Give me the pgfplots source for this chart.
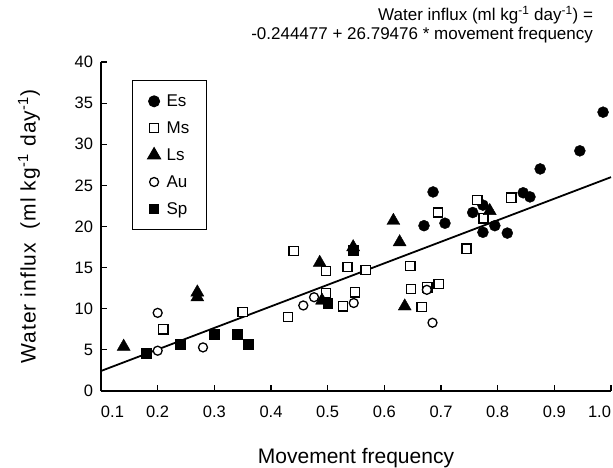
\documentclass[border=0pt]{standalone}
\usepackage{pgfplots}
\pgfplotsset{compat=1.18}
\usepackage{fontspec}
\setmainfont{Liberation Sans}

\pgfplotstableread{
x y
0.670 20.1
0.686 24.2
0.707 20.4
0.756 21.7
0.774 22.6
0.774 19.3
0.795 20.1
0.817 19.2
0.845 24.1
0.857 23.6
0.875 27.0
0.945 29.2
0.986 33.9
}\Es
\pgfplotstableread{
x y
0.210 7.5
0.350 9.6
0.430 9.0
0.440 17.0
0.497 14.6
0.497 11.9
0.527 10.3
0.535 15.1
0.548 12.0
0.567 14.7
0.646 15.2
0.647 12.4
0.666 10.2
0.676 12.6
0.696 13.0
0.695 21.7
0.745 17.3
0.764 23.2
0.775 21.0
0.824 23.5
}\Ms
\pgfplotstableread{
x y
0.140 5.4
0.270 11.4
0.270 12.0
0.486 15.6
0.490 11.0
0.545 17.5
0.616 20.7
0.627 18.1
0.636 10.3
0.786 21.9
}\Ls
\pgfplotstableread{
x y
0.200 4.9
0.200 9.5
0.280 5.3
0.457 10.4
0.476 11.4
0.546 10.7
0.675 12.3
0.685 8.3
}\Au
\pgfplotstableread{
x y
0.180 4.6
0.240 5.7
0.300 6.9
0.340 6.9
0.360 5.7
0.500 10.7
0.545 17.1
}\Sp

\begin{document}
\begin{tikzpicture}
\begin{axis}[
  scale only axis, width=510pt, height=329pt,
  xmin=0.1, xmax=1.0, ymin=0, ymax=40,
  axis x line*=bottom, axis y line*=left,
  axis line style={line width=1.3pt, black},
  tick align=inside, major tick length=6pt,
  tick style={line width=1.1pt, black},
  xtick={0.1,0.2,0.3,0.4,0.5,0.6,0.7,0.8,0.9,1.0},
  xticklabels={\makebox[0pt][l]{0.1},0.2,0.3,0.4,0.5,0.6,0.7,0.8,0.9,\makebox[0pt][r]{1.0}},
  ytick={0,5,10,15,20,25,30,35,40},
  /pgf/number format/assume math mode=true,
  ticklabel style={font=\fontsize{16.5}{18}\selectfont},
  xticklabel style={yshift=-11.5pt},
  yticklabel style={xshift=-4.5pt},
  xlabel={Movement frequency},
  xlabel style={at={(axis description cs:0.5,0)}, anchor=base, yshift=-72pt, font=\fontsize{21}{24}\selectfont},
  ylabel={Water influx\ \ (ml kg\textsuperscript{-1} day\textsuperscript{-1})},
  ylabel style={at={(axis description cs:-0.128,0.5)}, anchor=base, font=\fontsize{21}{24}\selectfont\addfontfeature{LetterSpace=5}},
  title={Water influx (ml kg\textsuperscript{-1} day\textsuperscript{-1}) =\\-0.244477 + 26.79476 * movement frequency},
  title style={at={(axis description cs:0.965,1)}, anchor=north east, yshift=50pt, align=right, font=\fontsize{17}{19}\selectfont, inner sep=0pt},
  legend style={at={(axis description cs:0.061,0.945)}, anchor=north west, draw=black, line width=1pt,
    font=\fontsize{17}{17}\selectfont, row sep=9.5pt, inner xsep=15pt, inner ysep=12pt},
  legend cell align=left,
  clip=false,
]
\addplot[black, line width=1.8pt, forget plot] coordinates {(0.1,2.435) (1.0,26.0)};
\addplot[only marks, mark=*, mark size=5.5pt, mark options={fill=black, draw=black}] table {\Es};
\addlegendentry{\hspace*{4pt}\strut Es}
\addplot[only marks, mark=square*, mark size=4.6pt, mark options={fill=white, draw=black, line width=1.3pt}] table {\Ms};
\addlegendentry{\hspace*{4pt}\strut Ms}
\addplot[only marks, mark=triangle*, mark size=7.5pt, mark options={fill=black, draw=black}] table {\Ls};
\addlegendentry{\hspace*{4pt}\strut Ls}
\addplot[only marks, mark=*, mark size=4.5pt, mark options={fill=white, draw=black, line width=1.3pt}] table {\Au};
\addlegendentry{\hspace*{4pt}\strut Au}
\addplot[only marks, mark=square*, mark size=4.8pt, mark options={fill=black, draw=black}] table {\Sp};
\addlegendentry{\hspace*{4pt}\strut Sp}
\end{axis}
\pgfresetboundingbox
\path[use as bounding box] (-101pt,-76pt) rectangle (512pt,391pt);
\end{tikzpicture}
\end{document}
